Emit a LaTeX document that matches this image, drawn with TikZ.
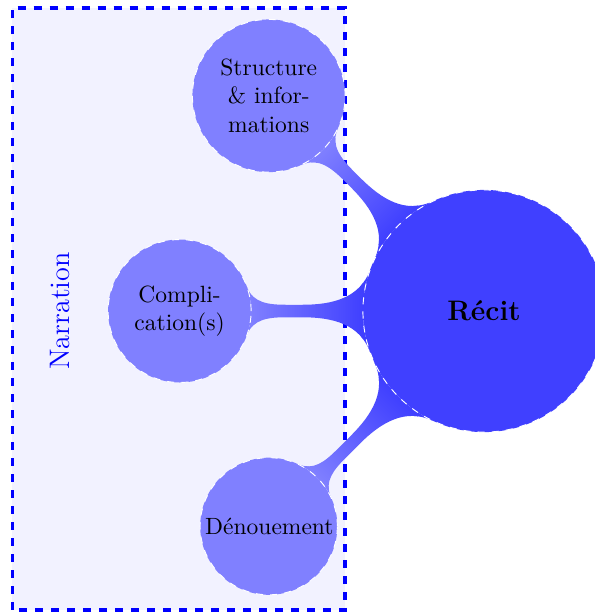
\documentclass[tikz,border=0pt]{standalone}
\usepackage{tikz}
\usetikzlibrary{mindmap,backgrounds}

\begin{document}
\begin{tikzpicture}[
  mindmap,
  rootconcept/.style = {concept, concept color=blue!75, draw=white, dashed,
                        line width=0.4pt, minimum size=3.62cm, text width=3cm,
                        inner sep=1pt, font=\large\bfseries},
  partconcept/.style = {concept, concept color=blue!50, draw=white, dashed,
                        line width=0.4pt, minimum size=2.05cm, text width=1.9cm,
                        inner sep=1pt, align=center, font=\normalsize},
  groupbox/.style    = {draw=blue, line width=1.3pt, dash pattern=on 3.4pt off 3.4pt,
                        fill=blue!5},
  bar/.style         = {circle connection bar switch color=from (blue!75) to (blue!50)},
]

\useasboundingbox (-7.235,-4.544) rectangle (1.659,4.649);

%% ── Concepts ─────────────────────────────────────────────────────────────────
\node[rootconcept] (recit) at (0,0) {Récit};

\node[partconcept] (structure)    at (135:4.55) {Structure\\\& infor-\\mations};
\node[partconcept] (complication) at (180:4.55) {Compli-\\cation(s)};
\node[partconcept] (denouement)   at (225:4.55) {Dénouement};

\node[rotate=90, text=blue] (narration) at (-6.34,0) {Narration};

%% ── Narration frame and connection bars, behind the concepts ────────────────
\begin{scope}[on background layer]
  \draw[groupbox] (-7.055,-4.469) rectangle (-2.078,4.529);

  \path (recit) to[bar] (structure);
  \path (recit) to[bar] (complication);
  \path (recit) to[bar] (denouement);
\end{scope}

\end{tikzpicture}
\end{document}
